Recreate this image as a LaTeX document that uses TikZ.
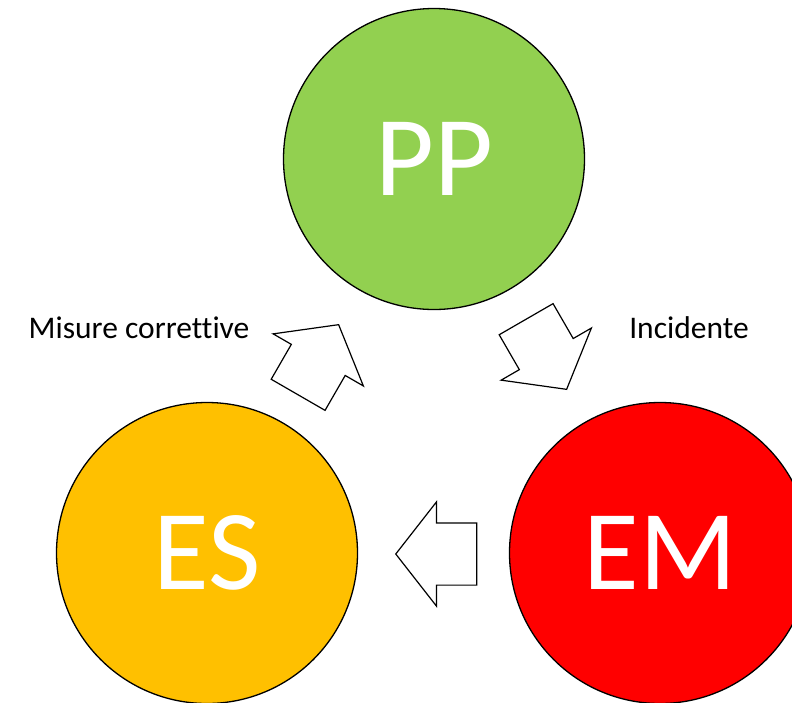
\documentclass[tikz,border=0pt]{standalone}
\usepackage{fontspec}
\setmainfont[Ligatures=NoCommon]{Carlito}
\usetikzlibrary{shapes.arrows}
\definecolor{verde}{HTML}{92D050}
\definecolor{arancio}{HTML}{FFC000}
\definecolor{rosso}{HTML}{FF0000}
\begin{document}
\begin{tikzpicture}[x=1pt, y=-1pt,
    stato/.style={circle, draw, line width=1.3pt, minimum size=301pt, inner sep=0pt,
      text=white, font=\fontsize{114}{114}\selectfont},
    freccia/.style={single arrow, draw, line width=1.2pt, fill=white, anchor=tip,
      inner xsep=0pt, inner ysep=30.5pt, text height=0pt, text depth=0pt,
      minimum height=81pt, single arrow head extend=21pt,
      single arrow tip angle=104},
    etichetta/.style={font=\fontsize{31.5}{36}\selectfont}]
  \useasboundingbox (0,0) rectangle (792,702);
  \node[stato, fill=verde]   (PP) at (434,159) {PP};
  \node[stato, fill=arancio] (ES) at (207,553) {ES};
  \node[stato, fill=rosso]   (EM) at (660,553) {EM};
  % frecce del ciclo
  \node[freccia, rotate=60]  (ESPP) at (339,324) {};
  \node[freccia, rotate=-60] (PPEM) at (567,390) {};
  \node[freccia, rotate=180] (EMES) at (395,554) {};
  \node[etichetta] (misure) at (139,328) {Misure correttive};
  \node[etichetta] (incid)  at (689,328) {Incidente};
\end{tikzpicture}
\end{document}
